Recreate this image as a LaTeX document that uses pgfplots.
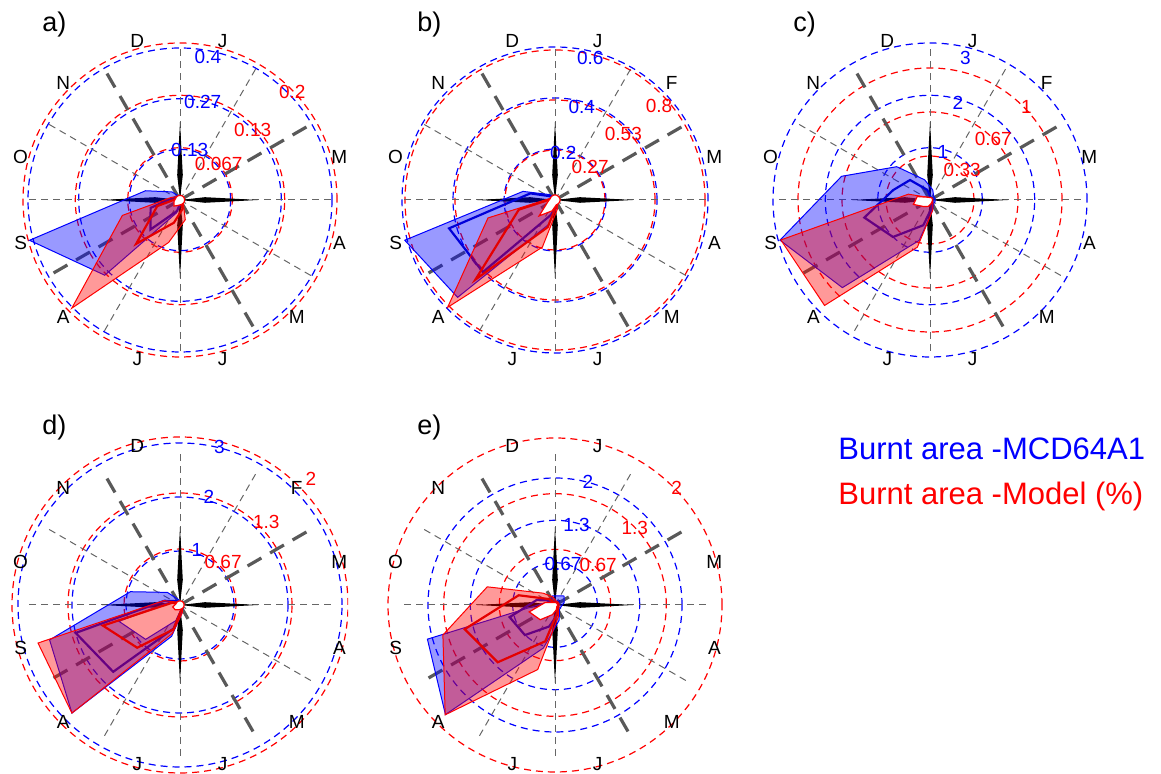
\documentclass[border=0pt]{standalone}
\usepackage{fontspec}
\setmainfont{Liberation Sans}
\usepackage{pgfplots}
\usepgfplotslibrary{polar}
\pgfplotsset{compat=1.18}

% one px of the reference = 0.5pt
\tikzset{
  ringdash/.style={line width=0.6pt, dash pattern=on 3.5pt off 2.5pt},
  thinspoke/.style={gray!80!black, line width=0.5pt, dash pattern=on 3.5pt off 2.5pt},
  thickspoke/.style={black!65, line width=1.6pt, dash pattern=on 8pt off 5pt},
  mon/.style={font=\fontsize{9.5}{10}\selectfont, inner sep=0pt},
  num/.style={font=\fontsize{9.5}{10}\selectfont, inner sep=0pt},
  plab/.style={font=\fontsize{13.5}{14}\selectfont, anchor=base west, inner sep=0pt},
}
\pgfplotsset{
  rose/.style={anchor=center, scale only axis, width=200pt, height=200pt,
    xmin=-#1, xmax=#1, ymin=-#1, ymax=#1, hide axis, clip=false},
  bfill/.style={data cs=polar, mark=none, draw=blue, line width=0.5pt, fill=blue, fill opacity=0.4},
  rfill/.style={data cs=polar, mark=none, draw=red, line width=0.5pt, fill=red, fill opacity=0.4},
  bline/.style={data cs=polar, mark=none, draw=blue!85!black, line width=1.1pt},
  rline/.style={data cs=polar, mark=none, draw=red!90!black, line width=1.1pt},
  bmin/.style={data cs=polar, mark=none, draw=blue, line width=0.5pt, fill=white},
  rmin/.style={data cs=polar, mark=none, draw=red, line width=0.6pt, fill=white},
}

% rings, spokes and the black star of one panel
\newcommand{\rosegrid}[4]{%
  \begin{scope}[shift={(#1,#2)}, x=0.5pt, y=0.5pt]
    \foreach \r in {#3} \draw[blue, ringdash] (0,0) circle[radius=\r];
    \foreach \r in {#4} \draw[red, ringdash] (0,0) circle[radius=\r];
    \foreach \a in {0,60,90,150,180,240,270,330} \draw[thinspoke] (0,0) -- (\a:152);
    \foreach \a in {30,120,210,300} \draw[thickspoke] (0,0) -- (\a:150);
    \foreach \a in {0,90,180,270}
      \fill[black, rotate=\a] (0,0) -- (25,2.8) -- (78,0) -- (25,-2.8) -- cycle;
  \end{scope}}
% month letters and ring labels
\newcommand{\roselabels}[5]{%
  \begin{scope}[shift={(#1,#2)}, x=0.5pt, y=0.5pt]
    \foreach \a/\m in {#3} \node[mon] at (\a:165) {\m};
    \foreach \a/\r/\t in {#4} \node[num, blue] at (\a:\r) {\t};
    \foreach \a/\r/\t in {#5} \node[num, red] at (\a:\r) {\t};
  \end{scope}}

\begin{document}
\begin{tikzpicture}

%% ---------------- a) ----------------
\rosegrid{90pt}{287pt}{50.7,101.3,152}{52.3,104.7,157}
\begin{axis}[rose=0.5263, at={(90pt,287pt)}]
\addplot[bfill] coordinates {(75,0.005) (45,0.005) (15,0.005) (-15,0.005) (-45,0.005) (-75,0.01) (-105,0.035) (-135,0.28) (-165,0.41) (165,0.094) (135,0.03) (105,0.01) (75,0.005)};
\addplot[bline] coordinates {(75,0.003) (45,0.003) (15,0.003) (-15,0.003) (-45,0.003) (-75,0.006) (-105,0.03) (-135,0.11) (-165,0.08) (165,0.02) (135,0.01) (105,0.005) (75,0.003)};
\end{axis}
\begin{axis}[rose=0.2548, at={(90pt,287pt)}]
\addplot[rfill] coordinates {(75,0.004) (45,0.004) (15,0.004) (-15,0.004) (-45,0.006) (-75,0.026) (-105,0.056) (-135,0.195) (-165,0.076) (165,0.012) (135,0.006) (105,0.004) (75,0.004)};
\addplot[rline] coordinates {(75,0.002) (45,0.002) (15,0.002) (-15,0.002) (-45,0.003) (-75,0.012) (-105,0.03) (-135,0.079) (-165,0.03) (165,0.005) (135,0.003) (105,0.002) (75,0.002)};
\addplot[rmin] coordinates {(75,0.006) (45,0.006) (15,0.006) (-15,0.006) (-45,0.006) (-75,0.006) (-105,0.007) (-135,0.011) (-165,0.008) (165,0.006) (135,0.006) (105,0.006) (75,0.006)};
\end{axis}
\roselabels{90pt}{287pt}{75/J,15/M,-15/A,-45/M,-75/J,-105/J,-135/A,-165/S,165/O,135/N,105/D}
  {79/146/0.4,77/101/0.27,79/51/0.13}{44/156/0.2,44/101/0.13,43/53/0.067}
\node[plab] at (21pt,371pt) {a)};

%% ---------------- b) ----------------
\rosegrid{277.5pt}{287pt}{51,102,153}{50,100,150}
\begin{axis}[rose=0.7843, at={(277.5pt,287pt)}]
\addplot[bfill] coordinates {(75,0.01) (45,0.01) (15,0.01) (-15,0.01) (-45,0.01) (-75,0.03) (-105,0.10) (-135,0.54) (-165,0.61) (165,0.13) (135,0.03) (105,0.01) (75,0.01)};
\addplot[bline] coordinates {(75,0.005) (45,0.005) (15,0.005) (-15,0.005) (-45,0.005) (-75,0.02) (-105,0.06) (-135,0.40) (-165,0.43) (165,0.10) (135,0.02) (105,0.005) (75,0.005)};
\end{axis}
\begin{axis}[rose=1.0667, at={(277.5pt,287pt)}]
\addplot[rfill] coordinates {(75,0.01) (45,0.01) (15,0.01) (-15,0.01) (-45,0.02) (-75,0.05) (-105,0.26) (-135,0.81) (-165,0.37) (165,0.03) (135,0.01) (105,0.01) (75,0.01)};
\addplot[rline] coordinates {(75,0.005) (45,0.005) (15,0.005) (-15,0.005) (-45,0.01) (-75,0.03) (-105,0.15) (-135,0.60) (-165,0.20) (165,0.02) (135,0.005) (105,0.005) (75,0.005)};
\addplot[rmin] coordinates {(75,0.027) (45,0.027) (15,0.027) (-15,0.027) (-45,0.027) (-75,0.027) (-105,0.06) (-135,0.12) (-165,0.04) (165,0.027) (135,0.027) (105,0.027) (75,0.027)};
\end{axis}
\roselabels{277.5pt}{287pt}{75/J,45/F,15/M,-15/A,-45/M,-75/J,-105/J,-135/A,-165/S,165/O,135/N,105/D}
  {76/146/0.6,74/97/0.4,80/48/0.2}{42/140/0.8,44/95/0.53,43/48/0.27}
\node[plab] at (208.5pt,371pt) {b)};

%% ---------------- c) ----------------
\rosegrid{465pt}{287pt}{52.3,104.7,157}{44,88,132}
\begin{axis}[rose=3.824, at={(465pt,287pt)}]
\addplot[bfill] coordinates {(75,0.2) (45,0.1) (15,0.1) (-15,0.1) (-45,0.1) (-75,0.2) (-105,0.8) (-135,2.37) (-165,2.97) (165,1.75) (135,0.9) (105,0.4) (75,0.2)};
\addplot[bline] coordinates {(75,0.05) (45,0.05) (15,0.05) (-15,0.05) (-45,0.05) (-75,0.15) (-105,0.5) (-135,1.0) (-165,1.3) (165,0.73) (135,0.54) (105,0.2) (75,0.05)};
\end{axis}
\begin{axis}[rose=1.5152, at={(465pt,287pt)}]
\addplot[rfill] coordinates {(75,0.02) (45,0.02) (15,0.02) (-15,0.02) (-45,0.03) (-75,0.08) (-105,0.37) (-135,1.13) (-165,1.17) (165,0.17) (135,0.03) (105,0.02) (75,0.02)};
\addplot[rmin] coordinates {(75,0.02) (45,0.02) (15,0.02) (-15,0.02) (-45,0.02) (-75,0.03) (-105,0.05) (-135,0.07) (-165,0.13) (165,0.10) (135,0.03) (105,0.02) (75,0.02)};
\end{axis}
\roselabels{465pt}{287pt}{75/J,45/F,15/M,-15/A,-45/M,-75/J,-105/J,-135/A,-165/S,165/O,135/N,105/D}
  {76/146/3,74/101/2,75/50/1}{44/134/1,44/88/0.67,43/44/0.33}
\node[plab] at (396.5pt,371pt) {c)};

%% ---------------- d) ----------------
\begin{scope}
\clip (0pt,0pt) rectangle (174pt,189.5pt);
\rosegrid{90pt}{84.5pt}{54,108,162}{56,112,168}
\begin{axis}[rose=3.7037, at={(90pt,84.5pt)}]
\addplot[bfill] coordinates {(75,0.05) (45,0.05) (15,0.05) (-15,0.05) (-45,0.08) (-75,0.15) (-105,0.6) (-135,2.83) (-165,2.5) (165,0.95) (135,0.33) (105,0.1) (75,0.05)};
\addplot[bmin] coordinates {(75,0.03) (45,0.03) (15,0.03) (-15,0.03) (-45,0.03) (-75,0.08) (-105,0.3) (-135,0.9) (-165,1.17) (165,0.2) (135,0.05) (105,0.03) (75,0.03)};
\addplot[bline] coordinates {(75,0.03) (45,0.03) (15,0.03) (-15,0.03) (-45,0.05) (-75,0.1) (-105,0.45) (-135,1.75) (-165,2.0) (165,0.3) (135,0.1) (105,0.05) (75,0.03)};
\end{axis}
\begin{axis}[rose=2.381, at={(90pt,84.5pt)}]
\addplot[rfill] coordinates {(75,0.03) (45,0.03) (15,0.03) (-15,0.03) (-45,0.05) (-75,0.1) (-105,0.35) (-135,1.82) (-165,1.75) (165,0.2) (135,0.05) (105,0.03) (75,0.03)};
\addplot[rline] coordinates {(75,0.02) (45,0.02) (15,0.02) (-15,0.02) (-45,0.03) (-75,0.06) (-105,0.3) (-135,0.72) (-165,0.95) (165,0.1) (135,0.03) (105,0.02) (75,0.02)};
\addplot[rmin] coordinates {(75,0.05) (45,0.05) (15,0.05) (-15,0.05) (-45,0.05) (-75,0.05) (-105,0.06) (-135,0.08) (-165,0.09) (165,0.05) (135,0.05) (105,0.05) (75,0.05)};
\end{axis}
\roselabels{90pt}{84.5pt}{45/F,15/M,-15/A,-45/M,-75/J,-105/J,-135/A,-165/S,165/O,135/N,105/D}
  {76/163/3,75/112/2,73/58/1}{44/182/2,44/120/1.3,45/61/0.67}
\end{scope}
\node[plab] at (21pt,169.5pt) {d)};

%% ---------------- e) ----------------
\rosegrid{277.5pt}{84.5pt}{42.3,84.7,127}{55.7,111.3,167}
\begin{axis}[rose=3.1496, at={(277.5pt,84.5pt)}]
\addplot[bfill] coordinates {(75,0.15) (45,0.2) (15,0.15) (-15,0.1) (-45,0.1) (-75,0.25) (-105,0.7) (-135,2.44) (-165,2.08) (165,0.15) (135,0.1) (105,0.15) (75,0.15)};
\addplot[bline] coordinates {(75,0.05) (45,0.08) (15,0.05) (-15,0.05) (-45,0.05) (-75,0.15) (-105,0.35) (-135,0.67) (-165,0.74) (165,0.3) (135,0.1) (105,0.05) (75,0.05)};
\end{axis}
\begin{axis}[rose=2.3952, at={(277.5pt,84.5pt)}]
\addplot[rfill] coordinates {(75,0.05) (45,0.05) (15,0.05) (-15,0.05) (-45,0.06) (-75,0.15) (-105,0.8) (-135,1.86) (-165,1.39) (165,0.84) (135,0.2) (105,0.1) (75,0.05)};
\addplot[rline] coordinates {(75,0.03) (45,0.03) (15,0.03) (-15,0.03) (-45,0.05) (-75,0.1) (-105,0.45) (-135,0.97) (-165,1.12) (165,0.45) (135,0.1) (105,0.03) (75,0.03)};
\addplot[rmin] coordinates {(75,0.03) (45,0.03) (15,0.03) (-15,0.03) (-45,0.03) (-75,0.06) (-105,0.12) (-135,0.25) (-165,0.32) (165,0.12) (135,0.04) (105,0.03) (75,0.03)};
\end{axis}
\roselabels{277.5pt}{84.5pt}{75/J,15/M,-15/A,-45/M,-75/J,-105/J,-135/A,-165/S,165/O,135/N,105/D}
  {75/127/2,75/83/1.3,79/42/0.67}{44/169/2,44/111/1.3,43/59/0.67}
\node[plab] at (208.5pt,169.5pt) {e)};

%% legend
\node[anchor=base west, inner sep=0pt, blue, font=\fontsize{15.5}{16}\selectfont] at (419pt,157pt) {Burnt area -MCD64A1};
\node[anchor=base west, inner sep=0pt, red, font=\fontsize{15.5}{16}\selectfont] at (419pt,134.5pt) {Burnt area -Model (\%)};

\pgfresetboundingbox
\path[use as bounding box] (0pt,0pt) rectangle (580.5pt,387pt);
\end{tikzpicture}
\end{document}
